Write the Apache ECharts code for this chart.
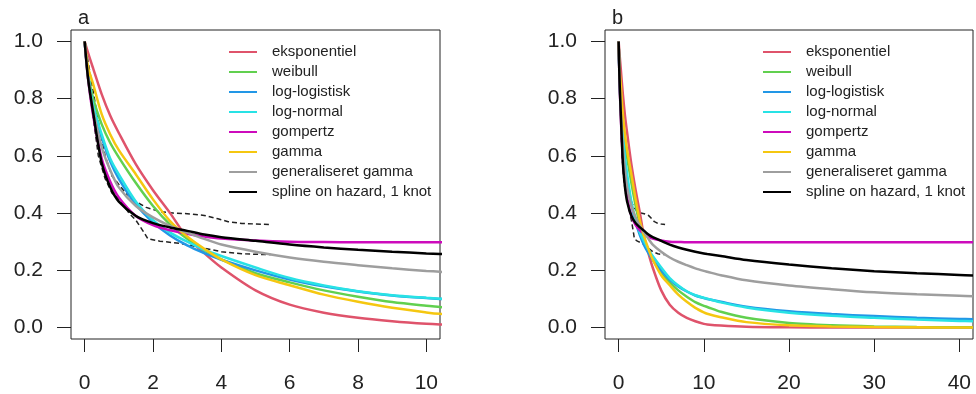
<!DOCTYPE html>
<html>
<head>
<meta charset="utf-8">
<script src="https://cdn.jsdelivr.net/npm/echarts@6/dist/echarts.min.js"></script>
<style>
  html, body { margin: 0; padding: 0; background: #fff; }
  #chart { width: 976px; height: 394px; }
</style>
</head>
<body>
<div id="chart"></div>
<script>
// time points the fitted survival curves were read at
const times = [0, 0.1, 0.25, 0.5, 0.75, 1, 1.5, 2, 2.5, 3, 3.5, 4, 5, 6, 7, 8, 9, 10, 10.4, 12, 15, 20, 25, 30, 35, 40, 41.6];

const eksponentiel = [1, 0.96, 0.905, 0.815, 0.74, 0.68, 0.57, 0.48, 0.40, 0.315, 0.26, 0.21, 0.13, 0.08, 0.052, 0.034, 0.022, 0.013, 0.011, 0.007, 0.003, 0.001, 0, 0, 0, 0, 0];
const weibull = [1, 0.89, 0.8, 0.71, 0.645, 0.595, 0.505, 0.425, 0.36, 0.31, 0.27, 0.238, 0.19, 0.158, 0.13, 0.108, 0.089, 0.076, 0.072, 0.055, 0.034, 0.016, 0.008, 0.004, 0.002, 0.001, 0.001];
const logLogistisk = [1, 0.88, 0.77, 0.665, 0.58, 0.52, 0.43, 0.368, 0.322, 0.287, 0.26, 0.237, 0.2, 0.168, 0.144, 0.126, 0.112, 0.103, 0.1, 0.09, 0.073, 0.057, 0.047, 0.04, 0.034, 0.03, 0.029];
const logNormal = [1, 0.88, 0.775, 0.675, 0.59, 0.535, 0.44, 0.375, 0.332, 0.3, 0.272, 0.25, 0.21, 0.173, 0.147, 0.127, 0.113, 0.104, 0.101, 0.088, 0.07, 0.052, 0.041, 0.034, 0.028, 0.023, 0.022];
const gompertz = [1, 0.87, 0.74, 0.59, 0.51, 0.455, 0.39, 0.358, 0.34, 0.328, 0.318, 0.311, 0.304, 0.3, 0.299, 0.298, 0.298, 0.298, 0.298, 0.298, 0.298, 0.298, 0.298, 0.298, 0.298, 0.298, 0.298];
const gamma = [1, 0.91, 0.85, 0.745, 0.675, 0.62, 0.535, 0.448, 0.372, 0.318, 0.275, 0.238, 0.183, 0.148, 0.115, 0.09, 0.069, 0.053, 0.048, 0.036, 0.019, 0.008, 0.004, 0.002, 0.001, 0, 0];
const genGamma = [1, 0.87, 0.76, 0.63, 0.55, 0.49, 0.425, 0.385, 0.355, 0.332, 0.31, 0.29, 0.265, 0.245, 0.23, 0.218, 0.207, 0.198, 0.195, 0.183, 0.165, 0.147, 0.134, 0.123, 0.116, 0.111, 0.109];
const spline = [1, 0.87, 0.75, 0.575, 0.49, 0.44, 0.39, 0.365, 0.35, 0.338, 0.325, 0.316, 0.303, 0.29, 0.28, 0.272, 0.265, 0.259, 0.257, 0.25, 0.236, 0.22, 0.207, 0.197, 0.19, 0.184, 0.182];

// dashed confidence band around the Kaplan-Meier estimate
const ciUpperTimes = [0, 0.2, 0.4, 0.6, 0.8, 1.0, 1.2, 1.5, 1.8, 2.2, 2.6, 3.0, 3.5, 3.9, 4.2, 4.6, 5.0, 5.45];
const ciUpper = [1, 0.86, 0.72, 0.6, 0.53, 0.5, 0.47, 0.44, 0.42, 0.405, 0.4, 0.398, 0.392, 0.38, 0.37, 0.364, 0.362, 0.36];
const ciLowerTimes = [0, 0.2, 0.4, 0.6, 0.8, 1.0, 1.3, 1.5, 1.75, 1.85, 2.2, 2.8, 3.4, 4.0, 4.6, 5.0, 5.45];
const ciLower = [1, 0.78, 0.6, 0.52, 0.47, 0.45, 0.40, 0.375, 0.33, 0.31, 0.302, 0.294, 0.28, 0.265, 0.258, 0.256, 0.255];

const xTicksA = [0, 2, 4, 6, 8, 10];
const xTicksB = [0, 10, 20, 30, 40];
const yTicks = [0, 0.2, 0.4, 0.6, 0.8, 1.0];

const curves = [
  { name: "eksponentiel", values: eksponentiel, color: "#DF536B" },
  { name: "weibull", values: weibull, color: "#61D04F" },
  { name: "log-logistisk", values: logLogistisk, color: "#2297E6" },
  { name: "log-normal", values: logNormal, color: "#28E2E5" },
  { name: "gompertz", values: gompertz, color: "#CD0BBC" },
  { name: "gamma", values: gamma, color: "#F5C710" },
  { name: "generaliseret gamma", values: genGamma, color: "#9E9E9E" },
  { name: "spline on hazard, 1 knot", values: spline, color: "#000000" },
];

const FONT = "'Liberation Sans', Arial, sans-serif";
const INK = "#222";

const zip = (xs, ys) => xs.map((x, i) => [x, ys[i]]);

function panelAxes(gridIndex, min, max, ticks) {
  const x = {
    gridIndex, type: "value", min, max,
    axisLine: { show: false, onZero: false },
    splitLine: { show: false },
    axisTick: { length: 13, lineStyle: { color: INK, width: 1 }, customValues: ticks },
    axisLabel: { customValues: ticks, fontSize: 21, color: INK, fontFamily: FONT, margin: 34 },
  };
  const y = {
    gridIndex, type: "value", min: -0.04, max: 1.04,
    axisLine: { show: false, onZero: false },
    splitLine: { show: false },
    axisTick: { length: 14, lineStyle: { color: INK, width: 1 }, customValues: yTicks },
    axisLabel: {
      customValues: yTicks, fontSize: 21, color: INK, fontFamily: FONT, margin: 28,
      formatter: (v) => v.toFixed(1),
    },
  };
  return [x, y];
}

function panelSeries(idx) {
  const out = [];
  const dashed = { color: "#222", width: 1.5, type: [5, 3] };
  out.push({
    name: "ci-upper", type: "line", xAxisIndex: idx, yAxisIndex: idx,
    data: zip(ciUpperTimes, ciUpper), showSymbol: false, symbol: "none",
    lineStyle: dashed, silent: true,
  });
  out.push({
    name: "ci-lower", type: "line", xAxisIndex: idx, yAxisIndex: idx,
    data: zip(ciLowerTimes, ciLower), showSymbol: false, symbol: "none",
    lineStyle: dashed, silent: true,
  });
  curves.forEach((c) => {
    out.push({
      name: c.name, type: "line", xAxisIndex: idx, yAxisIndex: idx,
      data: zip(times, c.values),
      showSymbol: false, symbol: "none",
      smooth: 0.3,
      itemStyle: { color: c.color },
      lineStyle: { color: c.color, width: 2.5 },
    });
  });
  return out;
}

function legendAt(left) {
  return {
    left, top: 44, orient: "vertical", padding: 0,
    icon: "rect", itemWidth: 28, itemHeight: 2, itemGap: 4,
    selectedMode: false,
    data: curves.map((c) => c.name),
    textStyle: { fontSize: 15, color: INK, fontFamily: FONT, lineHeight: 16, padding: [0, 0, 0, 10] },
  };
}

const [xa, ya] = panelAxes(0, -0.4, 10.4, xTicksA);
const [xb, yb] = panelAxes(1, -1.6, 41.6, xTicksB);

const chart = echarts.init(document.getElementById("chart"));
chart.setOption({
  animation: false,
  backgroundColor: "#fff",
  grid: [
    { left: 71, top: 30, width: 369, height: 309, show: true, borderColor: INK, borderWidth: 1, backgroundColor: "transparent" },
    { left: 605, top: 30, width: 368, height: 309, show: true, borderColor: INK, borderWidth: 1, backgroundColor: "transparent" },
  ],
  xAxis: [xa, xb],
  yAxis: [ya, yb],
  legend: [legendAt(229), legendAt(763)],
  graphic: [
    { type: "text", left: 78, top: 8, style: { text: "a", fontSize: 20, fill: INK, fontFamily: FONT } },
    { type: "text", left: 612, top: 8, style: { text: "b", fontSize: 20, fill: INK, fontFamily: FONT } },
  ],
  series: [...panelSeries(0), ...panelSeries(1)],
});
</script>
</body>
</html>
